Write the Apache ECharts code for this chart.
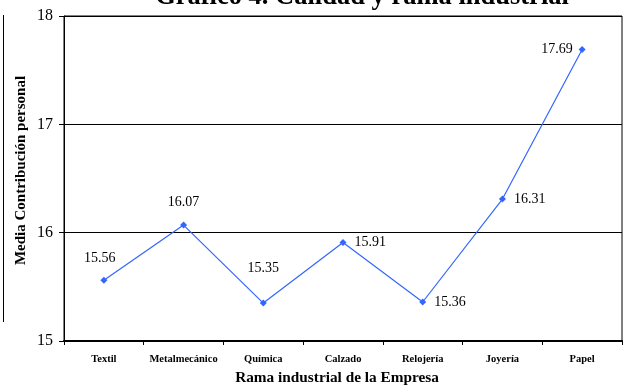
<!DOCTYPE html>
<html>
<head>
<meta charset="utf-8">
<script src="https://cdn.jsdelivr.net/npm/echarts@6/dist/echarts.min.js"></script>
<style>
html,body{margin:0;padding:0;background:#fff;}
#chart{width:623px;height:385px;}
</style>
</head>
<body>
<div id="chart"></div>
<script>
// Ramas industriales y media de contribución personal
var categories = ['Textil', 'Metalmecánico', 'Química', 'Calzado', 'Relojería', 'Joyería', 'Papel'];
var values = [15.56, 16.07, 15.35, 15.91, 15.36, 16.31, 17.69];
var labelSides = ['top', 'top', 'top', 'right', 'right', 'right', 'left'];
var yTicks = [15, 16, 17, 18];

var serif = '"Liberation Serif", "DejaVu Serif", serif';

var chart = echarts.init(document.getElementById('chart'), null, { renderer: 'canvas' });

var points = values.map(function (v, i) {
  var side = labelSides[i];
  var lab = { position: side };
  if (side === 'top') lab.distance = (i === 2) ? 24 : 12;
  if (side === 'top' && i === 0) lab.offset = [-4, 0];
  if (side === 'right') lab.distance = 8;
  if (side === 'left') lab.distance = 6;
  return { value: v, label: lab };
});

chart.setOption({
  animation: false,
  title: {
    text: 'Gráfico 4. Calidad y rama industrial',
    left: 357,
    textAlign: 'center',
    top: -21,
    textStyle: { fontFamily: serif, fontWeight: 'bold', fontSize: 26.5, color: '#000' }
  },
  grid: {
    left: 64, right: 1, top: 16, bottom: 44,
    outerBoundsMode: 'none', containLabel: false,
    show: true, borderColor: '#000', borderWidth: 1
  },
  xAxis: {
    type: 'category',
    data: categories,
    boundaryGap: true,
    name: 'Rama industrial de la Empresa',
    nameLocation: 'middle',
    nameGap: 30,
    nameTextStyle: { fontFamily: serif, fontWeight: 'bold', fontSize: 15.3, color: '#000', padding: [0, 12, 0, 0] },
    axisLine: { lineStyle: { color: '#000', width: 2 } },
    axisTick: { show: true, length: 4, lineStyle: { color: '#000' } },
    axisLabel: { interval: 0, fontFamily: serif, fontWeight: 'bold', fontSize: 10.5, color: '#000', margin: 13 }
  },
  yAxis: {
    type: 'value',
    min: yTicks[0],
    max: yTicks[yTicks.length - 1],
    interval: 1,
    name: 'Media Contribución personal',
    nameLocation: 'middle',
    nameGap: 35,
    nameMoveOverlap: false,
    nameTextStyle: { fontFamily: serif, fontWeight: 'bold', fontSize: 15, color: '#000', padding: [0, 0, 0, 16] },
    axisLine: { show: true, lineStyle: { color: '#000' } },
    axisTick: { show: true, length: 5, lineStyle: { color: '#000' } },
    axisLabel: { fontFamily: serif, fontSize: 16, color: '#000', margin: 11 },
    splitLine: { show: true, lineStyle: { color: '#000', width: 1 } }
  },
  series: [{
    type: 'line',
    data: points,
    symbol: 'diamond',
    symbolSize: 7,
    lineStyle: { color: '#3366ff', width: 1.2 },
    itemStyle: { color: '#3366ff' },
    label: {
      show: true,
      fontFamily: serif,
      fontSize: 14,
      color: '#000',
      formatter: function (p) { return p.value.toFixed(2); }
    }
  }],
  graphic: [{
    type: 'line',
    shape: { x1: 3.5, y1: 15, x2: 3.5, y2: 322 },
    style: { stroke: '#000', lineWidth: 1 }
  }]
});
</script>
</body>
</html>
